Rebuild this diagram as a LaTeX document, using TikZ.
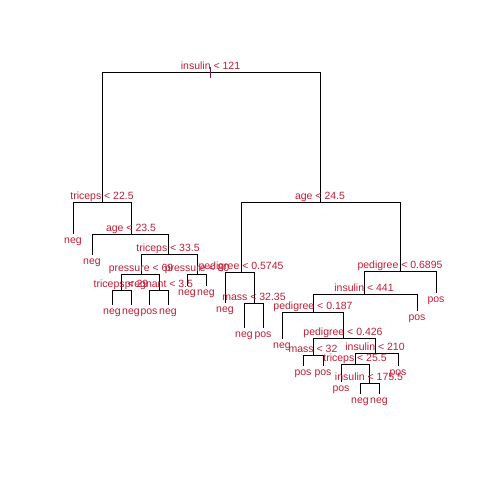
\documentclass[tikz,border=0pt]{standalone}
\usepackage{fontspec}
\setmainfont{Liberation Sans}
\definecolor{lab}{RGB}{190,30,55}
\definecolor{tick}{RGB}{120,10,90}
\begin{document}
\begin{tikzpicture}[x=1pt,y=-1pt,
  edge/.style={draw=black,line width=0.9pt},
  split/.style={text=lab,font=\fontsize{10.5}{12}\selectfont,anchor=base,inner sep=0pt},
  leaf/.style={text=lab,font=\fontsize{10.5}{12}\selectfont,anchor=base,inner sep=0pt}]
\useasboundingbox[fill=white] (0,0) rectangle (480,480);
% split points
\coordinate (n1) at (210.5,72);
\coordinate (n2) at (102,202);
\coordinate (n3) at (131,234);
\coordinate (n4) at (168,254);
\coordinate (n5) at (141,274);
\coordinate (n6) at (121,290);
\coordinate (n7) at (159,290);
\coordinate (n8) at (197,274);
\coordinate (n9) at (320,202);
\coordinate (n10) at (241,272);
\coordinate (n11) at (254,303);
\coordinate (n12) at (400,271);
\coordinate (n13) at (364,294);
\coordinate (n14) at (313,312);
\coordinate (n15) at (343,338);
\coordinate (n16) at (313,355);
\coordinate (n17) at (375,353);
\coordinate (n18) at (355,364);
\coordinate (n19) at (369,383);
% leaf ends
\coordinate (f1) at (73,234);
\coordinate (f2) at (92,255);
\coordinate (f3) at (112,305);
\coordinate (f4) at (131,305);
\coordinate (f5) at (149,305);
\coordinate (f6) at (168,305);
\coordinate (f7) at (187,286);
\coordinate (f8) at (206,286);
\coordinate (f9) at (225,303);
\coordinate (f10) at (244,328);
\coordinate (f11) at (263,328);
\coordinate (f12) at (282,339);
\coordinate (f13) at (303,366);
\coordinate (f14) at (323,366);
\coordinate (f15) at (341,382);
\coordinate (f16) at (360,394);
\coordinate (f17) at (379,394);
\coordinate (f18) at (398,366);
\coordinate (f19) at (417,311);
\coordinate (f20) at (436,293);
% edges
\draw[edge] (n1) -| (n2);  \draw[edge] (n1) -| (n9);
\draw[edge] (n2) -| (f1);  \draw[edge] (n2) -| (n3);
\draw[edge] (n3) -| (f2);  \draw[edge] (n3) -| (n4);
\draw[edge] (n4) -| (n5);  \draw[edge] (n4) -| (n8);
\draw[edge] (n5) -| (n6);  \draw[edge] (n5) -| (n7);
\draw[edge] (n6) -| (f3);  \draw[edge] (n6) -| (f4);
\draw[edge] (n7) -| (f5);  \draw[edge] (n7) -| (f6);
\draw[edge] (n8) -| (f7);  \draw[edge] (n8) -| (f8);
\draw[edge] (n9) -| (n10); \draw[edge] (n9) -| (n12);
\draw[edge] (n10) -| (f9); \draw[edge] (n10) -| (n11);
\draw[edge] (n11) -| (f10); \draw[edge] (n11) -| (f11);
\draw[edge] (n12) -| (n13); \draw[edge] (n12) -| (f20);
\draw[edge] (n13) -| (n14); \draw[edge] (n13) -| (f19);
\draw[edge] (n14) -| (f12); \draw[edge] (n14) -| (n15);
\draw[edge] (n15) -| (n16); \draw[edge] (n15) -| (n17);
\draw[edge] (n16) -| (f13); \draw[edge] (n16) -| (f14);
\draw[edge] (n17) -| (n18); \draw[edge] (n17) -| (f18);
\draw[edge] (n18) -| (f15); \draw[edge] (n18) -| (n19);
\draw[edge] (n19) -| (f16); \draw[edge] (n19) -| (f17);
% split labels
\node[split] (s1) at ([yshift=3pt]n1) {insulin < 121};
\node[split] (s2) at ([yshift=3pt]n2) {triceps < 22.5};
\node[split] (s3) at ([yshift=3pt]n3) {age < 23.5};
\node[split] (s4) at ([yshift=3pt]n4) {triceps < 33.5};
\node[split] (s5) at ([yshift=3pt]n5) {pressure < 69};
\node[split] (s6) at ([yshift=3pt]n6) {triceps < 29};
\node[split] (s7) at ([yshift=3pt]n7) {pregnant < 3.5};
\node[split] (s8) at ([yshift=3pt]n8) {pressure < 80};
\node[split] (s9) at ([yshift=3pt]n9) {age < 24.5};
\node[split] (s10) at ([yshift=3pt]n10) {pedigree < 0.5745};
\node[split] (s11) at ([yshift=3pt]n11) {mass < 32.35};
\node[split] (s12) at ([yshift=3pt]n12) {pedigree < 0.6895};
\node[split] (s13) at ([yshift=3pt]n13) {insulin < 441};
\node[split] (s14) at ([yshift=3pt]n14) {pedigree < 0.187};
\node[split] (s15) at ([yshift=3pt]n15) {pedigree < 0.426};
\node[split] (s16) at ([yshift=3pt]n16) {mass < 32};
\node[split] (s17) at ([yshift=3pt]n17) {insulin < 210};
\node[split] (s18) at ([yshift=3pt]n18) {triceps < 25.5};
\node[split] (s19) at ([yshift=3pt]n19) {insulin < 175.5};
% leaf labels
\node[leaf] (l1) at ([yshift=-9.5pt]f1) {neg};
\node[leaf] (l2) at ([yshift=-9.5pt]f2) {neg};
\node[leaf] (l3) at ([yshift=-9.5pt]f3) {neg};
\node[leaf] (l4) at ([yshift=-9.5pt]f4) {neg};
\node[leaf] (l5) at ([yshift=-9.5pt]f5) {pos};
\node[leaf] (l6) at ([yshift=-9.5pt]f6) {neg};
\node[leaf] (l7) at ([yshift=-9.5pt]f7) {neg};
\node[leaf] (l8) at ([yshift=-9.5pt]f8) {neg};
\node[leaf] (l9) at ([yshift=-9.5pt]f9) {neg};
\node[leaf] (l10) at ([yshift=-9.5pt]f10) {neg};
\node[leaf] (l11) at ([yshift=-9.5pt]f11) {pos};
\node[leaf] (l12) at ([yshift=-9.5pt]f12) {neg};
\node[leaf] (l13) at ([yshift=-9.5pt]f13) {pos};
\node[leaf] (l14) at ([yshift=-9.5pt]f14) {pos};
\node[leaf] (l15) at ([yshift=-9.5pt]f15) {pos};
\node[leaf] (l16) at ([yshift=-9.5pt]f16) {neg};
\node[leaf] (l17) at ([yshift=-9.5pt]f17) {neg};
\node[leaf] (l18) at ([yshift=-9.5pt]f18) {pos};
\node[leaf] (l19) at ([yshift=-9.5pt]f19) {pos};
\node[leaf] (l20) at ([yshift=-9.5pt]f20) {pos};
% root tick
\coordinate (t1) at (210.5,67);
\coordinate (t2) at (210.5,78);
\draw[tick,line width=0.9pt] (t1) -- (t2);
\end{tikzpicture}
\end{document}
